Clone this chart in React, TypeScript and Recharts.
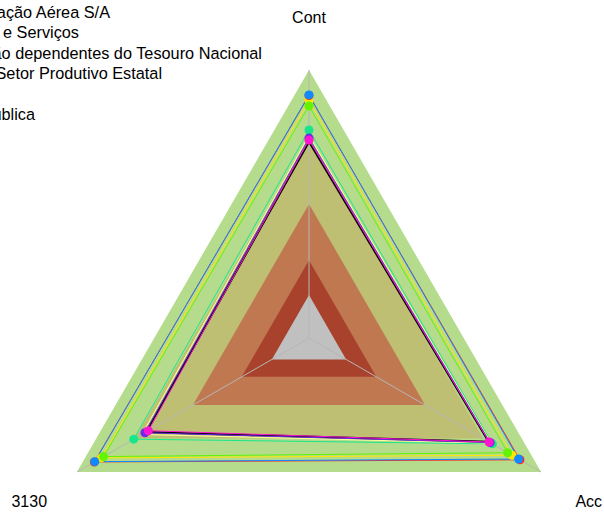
import { PolarAngleAxis, PolarGrid, PolarRadiusAxis, Radar, RadarChart } from "recharts";

// axes, clockwise from the top
const axisNames = ["Cont", "Acc", "3130"];

// background bands, outer to inner (same value on every axis)
const bandLevels = [100, 75, 50, 29, 16];
const bandColors = ["#b4dc8c", "#bfbf73", "#bf7850", "#a8422c", "#c0c0c0"];

// series values, in axis order (Cont, Acc, 3130)
const yellowVals = [88.5, 87.5, 89.5];
const redVals = [90.5, 90.9, 92.5];
const blueVals = [90.7, 90.3, 92.3];
const limeVals = [86.6, 85.6, 88.5];
const tealVals = [77.6, 79, 75.5];
const paleVals = [75.5, 78.5, 72];
const blackVals = [73.2, 77.4, 70.2];
const purpleVals = [74.6, 78, 70.7];
const magentaVals = [73.9, 77.6, 69.2];

const legendNames = [
  "NAV Brasil Serviços de Navegação Aérea S/A",
  "Empresas de Comércio e Serviços",
  "Empresas não dependentes do Tesouro Nacional",
  "Empresas do Setor Produtivo Estatal",
  "",
  "Administração Pública",
];

const CX = 309;
const CY = 338;
const R = 268;
const LABEL_R = 323;
const FONT = '"Liberation Sans", Arial, sans-serif';

const series = [
  { key: "yellow", color: "#ffe600", values: yellowVals, dot: true, width: 1 },
  { key: "red", color: "#ff2a20", values: redVals, dot: true, width: 1 },
  { key: "blue", color: "#0f8bff", values: blueVals, dot: true, width: 1 },
  { key: "lime", color: "#62f400", values: limeVals, dot: true, width: 1 },
  { key: "teal", color: "#19e68c", values: tealVals, dot: true, width: 1 },
  { key: "pale", color: "#ffff99", values: paleVals, dot: false, width: 1 },
  { key: "black", color: "#000000", values: blackVals, dot: false, width: 2 },
  { key: "purple", color: "#6a2ae8", values: purpleVals, dot: true, width: 1 },
  { key: "magenta", color: "#ff14d2", values: magentaVals, dot: true, width: 1 },
];

const data = axisNames.map((axis, i) => {
  const row: Record<string, string | number> = { axis };
  bandLevels.forEach((v, b) => (row[`band${b}`] = v));
  series.forEach((s) => (row[s.key] = s.values[i]));
  return row;
});

function AxisLabel(props: any) {
  const { payload } = props;
  const a = (payload.coordinate * Math.PI) / 180;
  return (
    <text
      x={CX + LABEL_R * Math.cos(a)}
      y={CY - LABEL_R * Math.sin(a) + 2}
      textAnchor="middle"
      dominantBaseline="central"
      fontSize={16}
      fontFamily={FONT}
      fill="#000"
    >
      {payload.value}
    </text>
  );
}

// legend runs off the left edge of the page; lines are placed by their right end
const legendRight = [110, 79, 262, 162, 0, 35];

function Legend() {
  return (
    <>
      {legendNames.map((name, i) =>
        name ? (
          <div
            key={i}
            style={{
              position: "absolute",
              right: 604 - legendRight[i],
              top: 2 + i * 20.3,
              fontFamily: FONT,
              fontSize: 16.3,
              lineHeight: "20px",
              whiteSpace: "nowrap",
              color: "#000",
            }}
          >
            {name}
          </div>
        ) : null
      )}
    </>
  );
}

export default function App() {
  return (
    <div
      style={{
        position: "absolute",
        left: 0,
        top: 0,
        width: 604,
        height: 514,
        overflow: "hidden",
        background: "#fff",
      }}
    >
      <RadarChart
        width={604}
        height={514}
        data={data}
        cx={CX}
        cy={CY}
        outerRadius={R}
        margin={{ top: 0, right: 0, bottom: 0, left: 0 }}
      >
        <PolarRadiusAxis domain={[0, 100]} tick={false} axisLine={false} type="number" />
        <PolarAngleAxis dataKey="axis" tick={AxisLabel} axisLine={false} tickLine={false} />
        {bandLevels.map((_, b) => (
          <Radar
            key={`band${b}`}
            dataKey={`band${b}`}
            stroke="none"
            fill={bandColors[b]}
            fillOpacity={1}
            dot={false}
            legendType="none"
            isAnimationActive={false}
            zIndex={-200}
          />
        ))}
        <PolarGrid gridType="polygon" polarRadius={[]} stroke="#b6b6b6" />
        {series.map((s) => (
          <Radar
            key={s.key}
            dataKey={s.key}
            stroke={s.color}
            strokeWidth={s.width}
            fill="none"
            fillOpacity={0}
            dot={s.dot ? { r: 4.5, fill: s.color, stroke: "none", fillOpacity: 1 } : false}
            isAnimationActive={false}
          />
        ))}
      </RadarChart>
      <Legend />
    </div>
  );
}
